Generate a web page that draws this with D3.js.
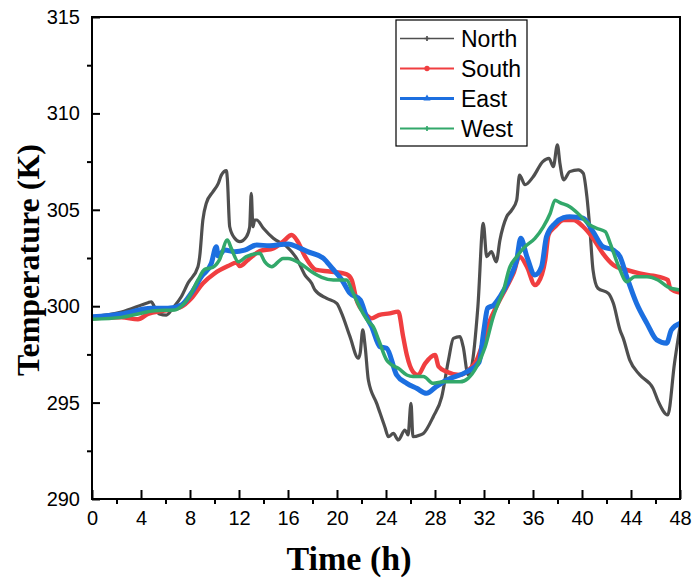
<!DOCTYPE html>
<html>
<head>
<meta charset="utf-8">
<script src="https://cdn.jsdelivr.net/npm/d3@7/dist/d3.min.js"></script>
<style>
  html, body { margin: 0; padding: 0; background: #fff; }
  svg { display: block; }
</style>
</head>
<body>
<svg id="chart" width="694" height="582"></svg>
<script>
// Façade temperatures over 48 h for the four orientations
const northTime = [0, 2.4, 4.57, 4.84, 5.1, 5.5, 6.07, 6.6, 7.3, 7.84, 8.65, 8.79, 9.05, 9.33, 9.88, 10.29, 10.56, 10.97, 11.05, 11.24, 11.65, 12.06, 12.6, 12.87, 13.0, 13.14, 13.28, 13.44, 13.99, 14.8, 15.9, 16.7, 17.4, 17.93, 18.2, 19.16, 19.98, 20.38, 21.06, 21.74, 21.9, 22.1, 22.3, 22.56, 23.24, 23.9, 24.2, 24.6, 25.0, 25.55, 25.8, 26.04, 26.2, 26.78, 27.05, 27.86, 28.55, 29.1, 29.5, 30.04, 30.3, 30.7, 31.0, 31.5, 31.94, 32.22, 32.6, 33.0, 33.3, 33.85, 34.26, 34.67, 34.9, 35.35, 36.0, 36.8, 37.3, 37.66, 37.99, 38.2, 38.5, 39.0, 39.7, 40.1, 40.4, 40.65, 40.9, 41.3, 42.15, 42.56, 43.1, 43.37, 43.9, 44.73, 45.8, 46.2, 47.0, 47.55, 48];
const northTemp = [299.45, 299.7, 300.18, 300.23, 299.97, 299.6, 299.54, 299.9, 300.5, 301.2, 302.05, 302.57, 304.47, 305.34, 305.94, 306.34, 306.8, 307.03, 306.6, 304.12, 303.52, 303.35, 303.6, 304.1, 305.85, 304.12, 304.47, 304.47, 304.04, 303.52, 303.09, 302.48, 301.6, 301.19, 300.84, 300.41, 300.15, 299.63, 298.42, 297.3, 297.6, 298.77, 297.9, 296.17, 294.96, 293.75, 293.23, 293.4, 293.06, 293.58, 293.32, 294.96, 293.23, 293.32, 293.4, 294.27, 295.3, 297.2, 298.33, 298.42, 297.9, 296.45, 296.9, 299.97, 304.3, 302.57, 302.83, 302.3, 303.43, 304.64, 304.98, 305.5, 306.8, 306.3, 306.7, 307.5, 307.67, 307.24, 308.37, 307.4, 306.55, 306.98, 307.07, 306.9, 305.68, 303.95, 301.88, 300.93, 300.67, 300.15, 298.77, 298.33, 297.2, 296.43, 295.74, 295.1, 294.36, 297.04, 298.94];

const southTime = [0, 2.4, 3.75, 4.57, 5.9, 7.3, 8.1, 9.06, 10.0, 11.1, 11.8, 12.06, 12.73, 13.7, 14.8, 15.6, 16.3, 16.8, 17.4, 18.3, 19.4, 20.8, 21.2, 21.6, 22.3, 22.83, 23.4, 24.3, 25.0, 25.4, 25.7, 26.2, 26.6, 27.2, 28.0, 28.3, 28.96, 30.0, 30.9, 31.4, 31.9, 32.5, 33.0, 33.85, 34.4, 34.9, 35.5, 36.16, 36.4, 37.0, 37.27, 37.8, 38.5, 39.3, 40.1, 40.9, 41.7, 42.56, 43.65, 44.7, 45.8, 47.0, 47.2, 48];
const southTemp = [299.37, 299.42, 299.32, 299.6, 299.77, 299.97, 300.4, 301.19, 301.7, 302.08, 302.26, 302.08, 302.4, 302.86, 303.0, 303.35, 303.69, 303.35, 302.57, 301.88, 301.8, 301.65, 301.36, 300.32, 299.63, 299.37, 299.54, 299.63, 299.72, 298.42, 297.47, 296.6, 296.43, 297.04, 297.47, 296.86, 296.6, 296.43, 296.78, 297.2, 298.08, 299.28, 299.97, 301.0, 301.7, 302.57, 302.05, 301.1, 301.2, 302.4, 303.7, 304.12, 304.47, 304.47, 304.12, 303.52, 302.74, 302.14, 301.88, 301.7, 301.58, 301.36, 300.93, 300.7];

const eastTime = [0, 2.4, 4.84, 6.2, 7.3, 8.1, 8.93, 9.74, 10.15, 10.3, 10.83, 11.65, 12.46, 13.44, 14.5, 16.0, 17.0, 17.6, 18.9, 19.6, 20.4, 21.06, 21.9, 22.4, 22.83, 23.5, 24.05, 24.87, 25.7, 26.5, 27.3, 28.1, 28.96, 30.6, 31.6, 32.0, 32.3, 32.8, 33.3, 34.1, 34.67, 35.0, 35.5, 36.16, 36.7, 37.1, 37.8, 38.5, 39.0, 40.1, 40.9, 41.7, 42.56, 43.1, 43.65, 44.45, 45.3, 46.1, 46.9, 47.3, 48];
const eastTemp = [299.45, 299.6, 299.89, 299.89, 300.06, 300.67, 301.53, 302.22, 303.09, 302.6, 302.91, 302.83, 302.91, 303.17, 303.14, 303.23, 303.0, 302.83, 302.48, 301.97, 301.36, 300.67, 300.32, 299.46, 298.94, 297.9, 297.82, 296.43, 296.0, 295.74, 295.48, 295.83, 296.17, 296.6, 297.1, 298.8, 299.9, 300.06, 300.49, 301.45, 302.4, 303.52, 302.57, 301.62, 302.05, 303.6, 304.3, 304.59, 304.64, 304.56, 303.87, 303.09, 302.91, 302.57, 301.53, 300.15, 299.11, 298.25, 298.08, 298.77, 299.11];

const westTime = [0, 2.4, 3.75, 5.1, 6.75, 7.4, 8.1, 8.65, 9.2, 9.88, 10.4, 11.05, 11.37, 11.95, 12.6, 13.7, 14.1, 14.67, 15.6, 16.0, 17.0, 17.93, 18.75, 19.7, 20.8, 21.2, 21.9, 22.56, 22.96, 23.4, 24.05, 24.47, 25.0, 25.7, 26.2, 27.05, 27.86, 28.7, 29.6, 30.04, 30.7, 31.4, 32.1, 32.76, 33.0, 33.6, 34.07, 34.67, 35.35, 36.16, 36.84, 37.4, 37.8, 38.2, 39.0, 39.8, 40.65, 41.2, 41.9, 42.3, 43.0, 43.65, 44.3, 45.3, 46.2, 47.0, 48];
const westTemp = [299.32, 299.42, 299.6, 299.77, 299.8, 300.06, 300.67, 301.36, 301.91, 302.02, 302.4, 303.43, 303.0, 302.3, 302.57, 302.74, 302.31, 302.05, 302.48, 302.48, 302.22, 301.79, 301.5, 301.36, 301.36, 300.84, 299.89, 299.2, 298.94, 298.25, 297.21, 296.95, 296.78, 296.43, 296.35, 296.35, 296.0, 296.08, 296.08, 296.08, 296.26, 296.86, 297.9, 299.46, 299.89, 300.84, 301.97, 302.57, 303.09, 303.52, 304.12, 304.81, 305.5, 305.37, 305.16, 304.73, 304.21, 304.04, 303.87, 303.26, 302.05, 301.27, 301.53, 301.53, 301.36, 301.0, 300.84];

const seriesNames = ["North", "South", "East", "West"];
const xTicks = d3.range(0, 49, 4);
const yTicks = [290, 295, 300, 305, 310, 315];

const series = [
  { name: "North", t: northTime, v: northTemp, color: "#4f4f4f", width: 3.2, lw: 1.5, symbol: d3.symbolCross,    size: 14 },
  { name: "South", t: southTime, v: southTemp, color: "#f03e40", width: 4.4, lw: 2,   symbol: d3.symbolCircle,   size: 22 },
  { name: "East",  t: eastTime,  v: eastTemp,  color: "#1c6fe0", width: 5,   lw: 3,   symbol: d3.symbolTriangle, size: 22 },
  { name: "West",  t: westTime,  v: westTemp,  color: "#32a86a", width: 3.5, lw: 2,   symbol: d3.symbolCross,    size: 14 }
];

const plotLeft = 92, plotRight = 680, plotTop = 17, plotBottom = 499;
const svg = d3.select("#chart");

const x = d3.scaleLinear().domain([0, 48]).range([plotLeft, plotRight]);
const y = d3.scaleLinear().domain([290, 315]).range([plotBottom, plotTop]);

svg.append("defs").append("clipPath").attr("id", "plotClip")
  .append("rect").attr("x", plotLeft).attr("y", plotTop)
  .attr("width", plotRight - plotLeft).attr("height", plotBottom - plotTop);

// Curves
const line = d3.line()
  .x(d => x(d[0]))
  .y(d => y(d[1]))
  .curve(d3.curveMonotoneX);

const plot = svg.append("g").attr("clip-path", "url(#plotClip)");
series.forEach(s => {
  const pts = s.t.map((t, i) => [t, s.v[i]]);
  plot.append("path")
    .datum(pts)
    .attr("d", line)
    .attr("fill", "none")
    .attr("stroke", s.color)
    .attr("stroke-width", s.width)
    .attr("stroke-linejoin", "round")
    .attr("stroke-linecap", "round");
});

// Frame
svg.append("rect")
  .attr("x", plotLeft).attr("y", plotTop)
  .attr("width", plotRight - plotLeft).attr("height", plotBottom - plotTop)
  .attr("fill", "none").attr("stroke", "#000").attr("stroke-width", 2);

const tickFont = "'Liberation Sans', Arial, sans-serif";

// Bottom axis: major ticks inward, minor ticks outward
svg.append("g").attr("transform", `translate(0,${plotBottom})`)
  .call(d3.axisBottom(x).tickValues(xTicks).tickSizeInner(-9).tickSizeOuter(0).tickPadding(12).tickFormat(d3.format("d")));
svg.append("g").attr("transform", `translate(0,${plotBottom})`)
  .call(d3.axisBottom(x).tickValues(d3.range(2, 48, 4)).tickSizeInner(5).tickSizeOuter(0).tickFormat(""));

// Left axis
svg.append("g").attr("transform", `translate(${plotLeft},0)`)
  .call(d3.axisLeft(y).tickValues(yTicks).tickSizeInner(-8).tickSizeOuter(0).tickPadding(12).tickFormat(d3.format("d")));
svg.append("g").attr("transform", `translate(${plotLeft},0)`)
  .call(d3.axisLeft(y).tickValues([292.5, 297.5, 302.5, 307.5, 312.5]).tickSizeInner(5).tickSizeOuter(0).tickFormat(""));

svg.selectAll(".domain").remove();
svg.selectAll(".tick line").attr("stroke", "#000").attr("stroke-width", 2);
svg.selectAll(".tick text")
  .attr("fill", "#000")
  .style("font-family", tickFont)
  .style("font-size", "20px");

// Axis titles
svg.append("text")
  .attr("x", 349).attr("y", 570)
  .attr("text-anchor", "middle")
  .style("font-family", "'Liberation Serif', 'Times New Roman', serif")
  .style("font-weight", "bold")
  .style("font-size", "34px")
  .text("Time (h)");

svg.append("text")
  .attr("transform", "translate(39,260) rotate(-90)")
  .attr("text-anchor", "middle")
  .style("font-family", "'Liberation Serif', 'Times New Roman', serif")
  .style("font-weight", "bold")
  .style("font-size", "32px")
  .text("Temperature (K)");

// Legend
const legend = svg.append("g");
legend.append("rect")
  .attr("x", 396).attr("y", 20).attr("width", 131).attr("height", 126)
  .attr("fill", "#fff").attr("stroke", "#000").attr("stroke-width", 1.2);

series.forEach((s, i) => {
  const ly = 38.5 + i * 30;
  legend.append("line")
    .attr("x1", 400).attr("x2", 454).attr("y1", ly).attr("y2", ly)
    .attr("stroke", s.color).attr("stroke-width", s.lw);
  legend.append("path")
    .attr("d", d3.symbol().type(s.symbol).size(s.size)())
    .attr("transform", `translate(427,${ly})`)
    .attr("fill", s.color);
  legend.append("text")
    .attr("x", 461).attr("y", ly + 8.3)
    .style("font-family", tickFont)
    .style("font-size", "23px")
    .attr("fill", "#000")
    .text(seriesNames[i]);
});
</script>
</body>
</html>
